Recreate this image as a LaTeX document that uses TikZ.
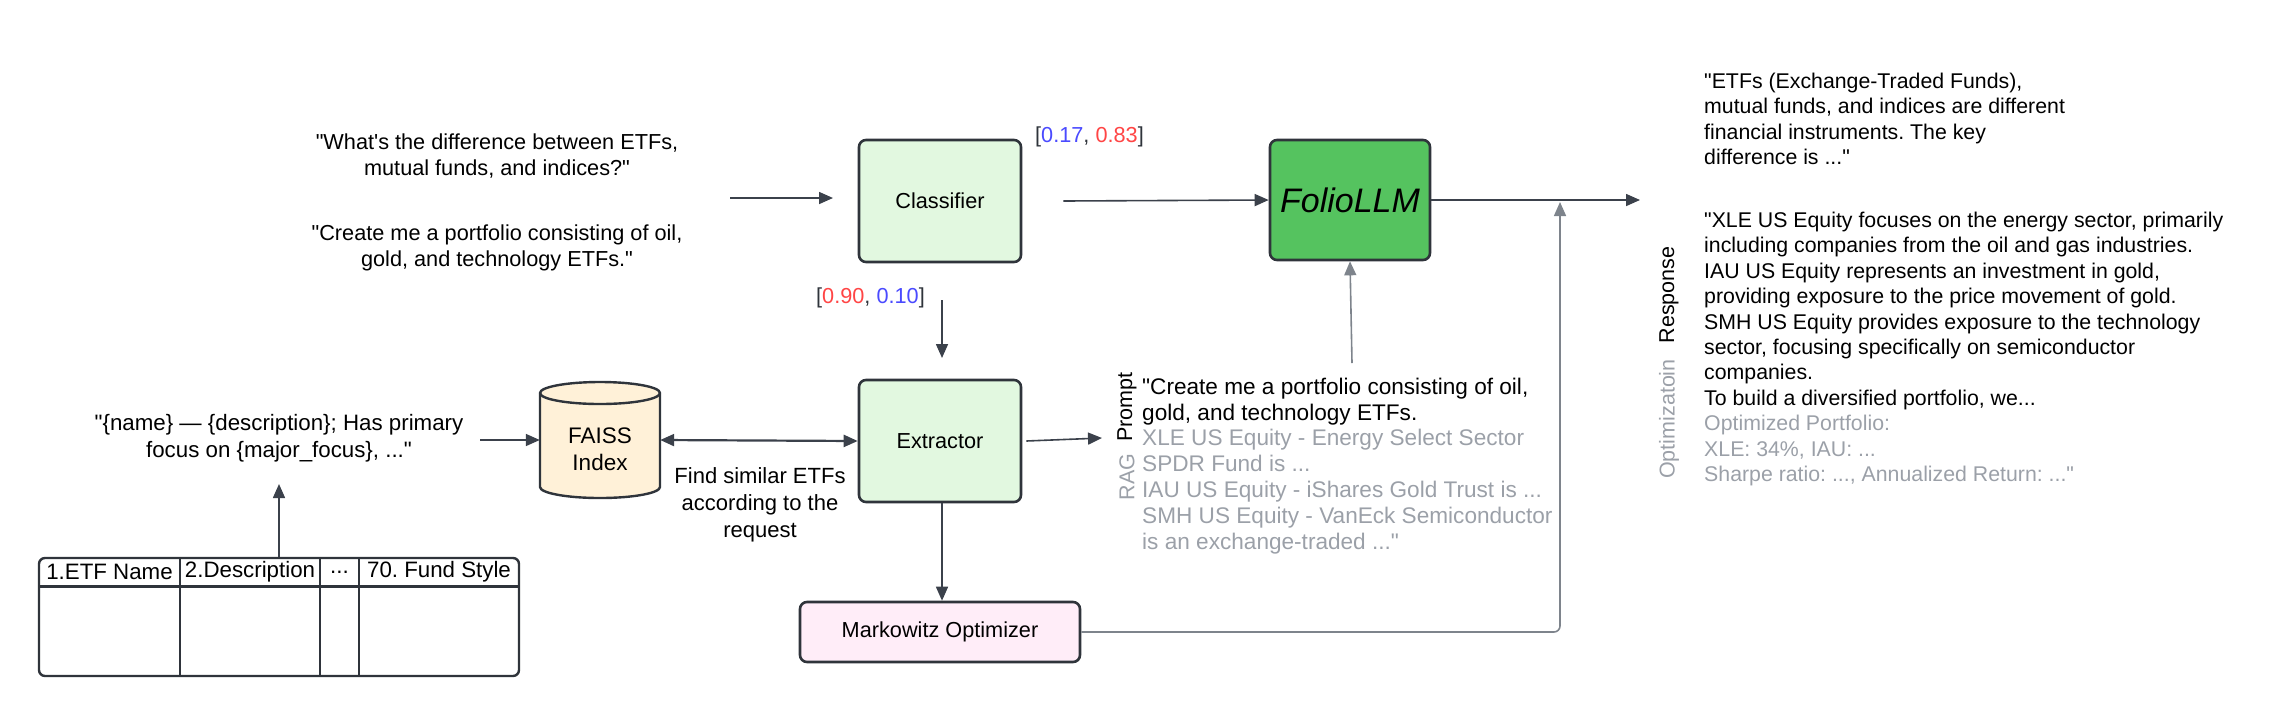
\documentclass[tikz,border=0pt]{standalone}
\usepackage{fontspec}
\setmainfont{Liberation Sans}[Ligatures=TeXOff]
\usetikzlibrary{arrows.meta}
\definecolor{ink}{HTML}{2F343B}
\definecolor{edge}{HTML}{3B414B}
\definecolor{edgesoft}{HTML}{7E848C}
\definecolor{soft}{HTML}{9BA0A8}
\definecolor{lgreen}{HTML}{E2F8E0}
\definecolor{dgreen}{HTML}{55C35F}
\definecolor{cream}{HTML}{FFF1D8}
\definecolor{lpink}{HTML}{FFEDF8}
\definecolor{vblue}{HTML}{4A4AFF}
\definecolor{vred}{HTML}{FF4545}
\frenchspacing
\begin{document}
\begin{tikzpicture}[x=1pt,y=-1pt,
  txt/.style={font=\fontsize{21.7}{25.6}\selectfont, inner sep=0pt},
  box/.style={draw=ink, line width=2.6pt, rounded corners=7pt, minimum width=162pt, minimum height=122pt, inner sep=0pt, font=\fontsize{21.7}{25}\selectfont},
  conn/.style={draw=edge, line width=1.6pt, -{Triangle[length=14pt,width=12pt]}},
  connsoft/.style={draw=edgesoft, line width=1.6pt, -{Triangle[length=14pt,width=12pt]}},
  biconn/.style={draw=edge, line width=2.2pt, {Triangle[length=14pt,width=12pt]}-{Triangle[length=14pt,width=12pt]}},
  vlabel/.style={font=\fontsize{21.5}{25}\selectfont, inner sep=0pt, rotate=90},
]
\useasboundingbox (0,0) rectangle (2280,716);

% queries
\node[txt, align=center] (q1) at (497,156) {"What's the difference between ETFs,\\mutual funds, and indices?"};
\node[txt, align=center] (q2) at (497,248) {"Create me a portfolio consisting of oil,\\gold, and technology ETFs."};
\coordinate (qin) at (730,198);
\coordinate (clsin) at (833,198);

% main boxes
\node[box, fill=lgreen] (cls) at (940,201) {Classifier};
\node[box, fill=dgreen, minimum width=160pt, minimum height=120pt, font=\fontsize{34}{40}\selectfont\itshape] (llm) at (1350,200) {FolioLLM};
\node[box, fill=lgreen] (ext) at (940,441) {Extractor};
\node[box, fill=lpink, minimum width=280pt, minimum height=60pt] (mark) at (940,632) {\raisebox{3pt}{Markowitz Optimizer}};

% probability labels
\node[txt, anchor=west, text=ink] (p1) at (1035,137) {[\textcolor{vblue}{0.17}, \textcolor{vred}{0.83}]};
\node[txt, anchor=west, text=ink] (p2) at (816,298) {[\textcolor{vred}{0.90}, \textcolor{vblue}{0.10}]};

% FAISS cylinder
\filldraw[fill=cream, draw=ink, line width=2.4pt] (540,393) -- (540,487) arc[start angle=180, end angle=360, x radius=60pt, y radius=11pt] -- (660,393) arc[start angle=0, end angle=180, x radius=60pt, y radius=11pt] -- cycle;
\draw[ink, line width=2.4pt] (540,393) arc[start angle=180, end angle=360, x radius=60pt, y radius=11pt];
\node[minimum width=120pt, minimum height=118pt, inner sep=0pt] (faiss) at (600,440) {};
\node[txt, align=center, font=\fontsize{22.5}{27}\selectfont] (faisslbl) at (600,449) {FAISS\\Index};

% find similar
\node[txt, align=center, font=\fontsize{22}{27}\selectfont] (find) at (760,505) {Find similar ETFs\\according to the\\request};

% template
\node[txt, align=center, font=\fontsize{22.3}{27}\selectfont] (tmpl) at (279,438) {"\{name\} — \{description\}; Has primary\\focus on \{major\_focus\}, ..."};
\coordinate (tmplout) at (480,440);
\coordinate (tmplbot) at (279,484);

% table
\node[draw=ink, line width=2.4pt, rounded corners=6pt, minimum width=480pt, minimum height=118pt, inner sep=0pt] (tbl) at (279,617) {};
\draw[ink, line width=3pt] (39,586) -- (519,586);
\foreach \cx in {180,320,359} \draw[ink, line width=2pt] (\cx,558) -- (\cx,676);
\node[txt, font=\fontsize{22.3}{26}\selectfont] (h1) at (109.5,572) {1.ETF Name};
\node[txt, font=\fontsize{22.3}{26}\selectfont] (h2) at (250,572) {2.Description};
\node[txt, font=\fontsize{22.3}{26}\selectfont] (h3) at (339.5,572) {...};
\node[txt, font=\fontsize{22.3}{26}\selectfont] (h4) at (439,572) {70. Fund Style};

% prompt block
\node[vlabel] (plabel) at (1127,407) {Prompt};
\node[vlabel, text=soft] (rlabel) at (1127,477) {RAG};
\node[txt, align=left, anchor=west, font=\fontsize{22.6}{25.9}\selectfont] (prompt) at (1142,466) {"Create me a portfolio consisting of oil,\\gold, and technology ETFs.\\\textcolor{soft}{XLE US Equity - Energy Select Sector}\\\textcolor{soft}{SPDR Fund is ...}\\\textcolor{soft}{IAU US Equity - iShares Gold Trust is ...}\\\textcolor{soft}{SMH US Equity - VanEck Semiconductor}\\\textcolor{soft}{is an exchange-traded ..."}};
\coordinate (promptin) at (1102,438);
\coordinate (ptop) at (1352,363);

% response
\node[txt, align=left, anchor=west, font=\fontsize{21.3}{25.4}\selectfont] (resp1) at (1704,119) {"ETFs (Exchange-Traded Funds),\\mutual funds, and indices are different\\financial instruments. The key\\difference is ..."};
\node[txt, align=left, anchor=west, font=\fontsize{21.3}{25.4}\selectfont] (resp2) at (1704,349) {"XLE US Equity focuses on the energy sector, primarily\\including companies from the oil and gas industries.\\IAU US Equity represents an investment in gold,\\providing exposure to the price movement of gold.\\SMH US Equity provides exposure to the technology\\sector, focusing specifically on semiconductor\\companies.\\To build a diversified portfolio, we...\\\textcolor{soft}{Optimized Portfolio:}\\\textcolor{soft}{XLE: 34\%, IAU: ...}\\\textcolor{soft}{Sharpe ratio: ..., Annualized Return: ..."}};
\node[vlabel] (resplabel) at (1669,295) {Response};
\node[vlabel, text=soft] (optlabel) at (1669,419) {Optimizatoin};
\coordinate (respin) at (1640,200);
\coordinate (join) at (1560,202);

% connectors
\draw[conn] (qin) -- (clsin);
\draw[conn] ([xshift=41pt]cls.east) -- (llm.west);
\draw[conn] (llm.east) -- (respin);
\draw[conn] (942,300) -- (942,358);
\draw[conn] (ext.south -| 942,0) -- (mark.north -| 942,0);
\draw[biconn] (faiss.east) -- (ext.west);
\draw[conn] (tmplout) -- (faiss.west);
\draw[conn] (tbl.north) -- (tmplbot);
\draw[conn] ([xshift=4pt]ext.east) -- (promptin);
\draw[connsoft] (ptop) -- (llm.south);
\draw[connsoft, rounded corners=6pt] (mark.east) -| (join);
\end{tikzpicture}
\end{document}
